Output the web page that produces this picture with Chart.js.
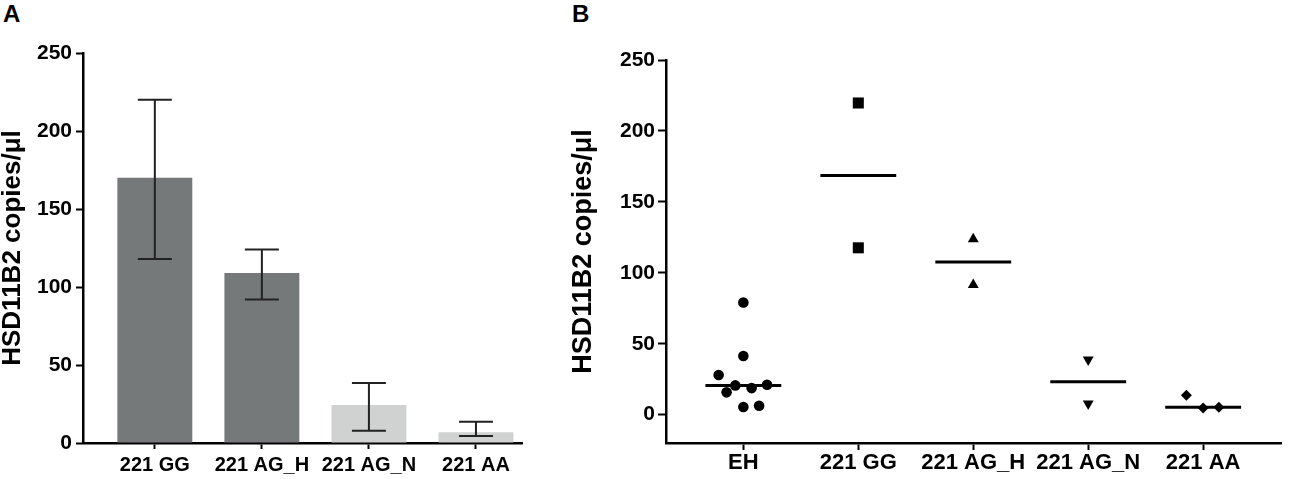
<!DOCTYPE html>
<html>
<head>
<meta charset="utf-8">
<script src="https://cdn.jsdelivr.net/npm/chart.js@4.4.1/dist/chart.umd.min.js"></script>
<style>
  html, body { margin: 0; padding: 0; background: #fff; }
  body { width: 1289px; height: 479px; position: relative; overflow: hidden; font-family: 'Liberation Sans', Arial, sans-serif; }
  .panel { position: absolute; top: 0; height: 479px; }
  .tag { position: absolute; top: 2px; font-weight: bold; font-size: 24px; line-height: 24px; color: #000; }
</style>
</head>
<body>
<div class="tag" style="left:3px">A</div>
<div class="tag" style="left:572px">B</div>
<div class="panel" style="left:0; width:523px"><canvas id="chart-a"></canvas></div>
<div class="panel" style="left:560px; width:729px"><canvas id="chart-b"></canvas></div>
<script>
// panel A: bar with error bars
const aCats = ['221 GG', '221 AG_H', '221 AG_N', '221 AA'];
const aMeans = [170, 109, 24.4, 6.9];
const aLower = [118, 92, 7.9, 4.5];
const aUpper = [220, 124, 38.5, 13.7];

// panel B: individual values per group
const bCats = ['EH', '221 GG', '221 AG_H', '221 AG_N', '221 AA'];
const ehValues = [79, 41.3, 27.9, 20.6, 15.7, 18.7, 21.1, 5.4, 6.3];
const ehJitter = [0, 0, -0.215, -0.07, -0.146, 0.072, 0.206, 0, 0.137];
const ggValues = [219.7, 117.6];
const aghValues = [123.7, 91.5];
const agnValues = [38.7, 7.7];
const aaValues = [13.6, 4.6, 5.2];
const aaJitter = [-0.146, 0, 0.137];

const yTicks = [0, 50, 100, 150, 200, 250];

Chart.defaults.font.family = "'Liberation Sans', Arial, sans-serif";
Chart.defaults.font.weight = 'bold';
Chart.defaults.color = '#000';
Chart.defaults.animation = false;

function median(arr) {
    const s = [...arr].sort((a, b) => a - b);
    const m = Math.floor(s.length / 2);
    return s.length % 2 ? s[m] : (s[m - 1] + s[m]) / 2;
}

function axisStyle(tickLength) {
    return {
        offset: false,
        grid: { offset: false, drawOnChartArea: false, drawTicks: true, tickLength: tickLength, tickWidth: 2, tickColor: '#000' },
        border: { display: true, width: 2.5, color: '#000' }
    };
}

const errorBars = {
    id: 'errorBars',
    afterDatasetsDraw(chart) {
        const { ctx, scales: { x, y } } = chart;
        ctx.save();
        ctx.strokeStyle = '#222';
        ctx.lineWidth = 2;
        aCats.forEach((c, i) => {
            const px = x.getPixelForValue(i);
            const top = y.getPixelForValue(aUpper[i]);
            const bot = y.getPixelForValue(aLower[i]);
            ctx.beginPath();
            ctx.moveTo(px, top); ctx.lineTo(px, bot);
            ctx.moveTo(px - 17, top); ctx.lineTo(px + 17, top);
            ctx.moveTo(px - 17, bot); ctx.lineTo(px + 17, bot);
            ctx.stroke();
        });
        ctx.restore();
    }
};

new Chart(document.getElementById('chart-a').getContext('2d'), {
    type: 'bar',
    data: {
        datasets: [{
            data: aMeans.map((v, i) => ({ x: i, y: v })),
            backgroundColor: ['#75797a', '#75797a', '#d0d1d1', '#d0d1d1'],
            categoryPercentage: 1,
            barPercentage: 0.7
        }]
    },
    options: {
        responsive: true,
        maintainAspectRatio: false,
        layout: { padding: { top: 53, right: 1, bottom: 0, left: 0 } },
        plugins: { legend: { display: false }, tooltip: { enabled: false } },
        scales: {
            x: {
                type: 'linear', min: -0.671, max: 3.43,
                ...axisStyle(6),
                afterBuildTicks: s => { s.ticks = aCats.map((c, i) => ({ value: i })); },
                afterFit: s => { s.height = 36; },
                ticks: { autoSkip: false, maxRotation: 0, padding: 4, font: { size: 20 }, callback: v => aCats[v] }
            },
            y: {
                min: 0, max: 250,
                ...axisStyle(7),
                afterBuildTicks: s => { s.ticks = yTicks.map(v => ({ value: v })); },
                afterFit: s => { s.width = 83; },
                ticks: { padding: 4, font: { size: 21 } },
                title: { display: true, text: 'HSD11B2 copies/μl', font: { size: 26, lineHeight: 1 }, padding: { top: 0, bottom: 0 } }
            }
        }
    },
    plugins: [errorBars]
});

function groupPoints(values, idx, jitter) {
    return values.map((v, k) => ({ x: idx + (jitter ? jitter[k] : 0), y: v }));
}
function medianLine(values, idx) {
    const m = median(values);
    return {
        type: 'line',
        data: [{ x: idx - 0.33, y: m }, { x: idx + 0.33, y: m }],
        borderColor: '#000', borderWidth: 3, pointRadius: 0, showLine: true
    };
}
function pointSet(values, idx, jitter, style, radius, rotation) {
    return {
        type: 'scatter',
        data: groupPoints(values, idx, jitter),
        pointStyle: style, pointRadius: radius, pointRotation: rotation || 0,
        backgroundColor: '#000', borderColor: '#000', borderWidth: 0
    };
}

new Chart(document.getElementById('chart-b').getContext('2d'), {
    type: 'scatter',
    data: {
        datasets: [
            pointSet(ehValues, 0, ehJitter, 'circle', 5.3),
            pointSet(ggValues, 1, null, 'rect', 7.8),
            pointSet(aghValues, 2, null, 'triangle', 6.3),
            pointSet(agnValues, 3, null, 'triangle', 6.3, 180),
            pointSet(aaValues, 4, aaJitter, 'rectRot', 5.5),
            medianLine(ehValues, 0),
            medianLine(ggValues, 1),
            medianLine(aghValues, 2),
            medianLine(agnValues, 3),
            medianLine(aaValues, 4)
        ]
    },
    options: {
        responsive: true,
        maintainAspectRatio: false,
        clip: false,
        layout: { padding: { top: 60, right: 0, bottom: 0, left: 0 } },
        plugins: { legend: { display: false }, tooltip: { enabled: false } },
        scales: {
            x: {
                type: 'linear', min: -0.673, max: 4.679,
                ...axisStyle(7),
                afterBuildTicks: s => { s.ticks = bCats.map((c, i) => ({ value: i })); },
                afterFit: s => { s.height = 36; },
                ticks: { autoSkip: false, maxRotation: 0, padding: 0, font: { size: 22 }, callback: v => bCats[v] }
            },
            y: {
                min: -20, max: 250,
                ...axisStyle(8),
                afterBuildTicks: s => { s.ticks = yTicks.map(v => ({ value: v })); },
                afterFit: s => { s.width = 106; },
                ticks: { padding: 3, font: { size: 21 } },
                title: { display: true, text: 'HSD11B2 copies/μl', font: { size: 27, lineHeight: 1 }, padding: { top: 10, bottom: 0 } }
            }
        }
    }
});
</script>
</body>
</html>
